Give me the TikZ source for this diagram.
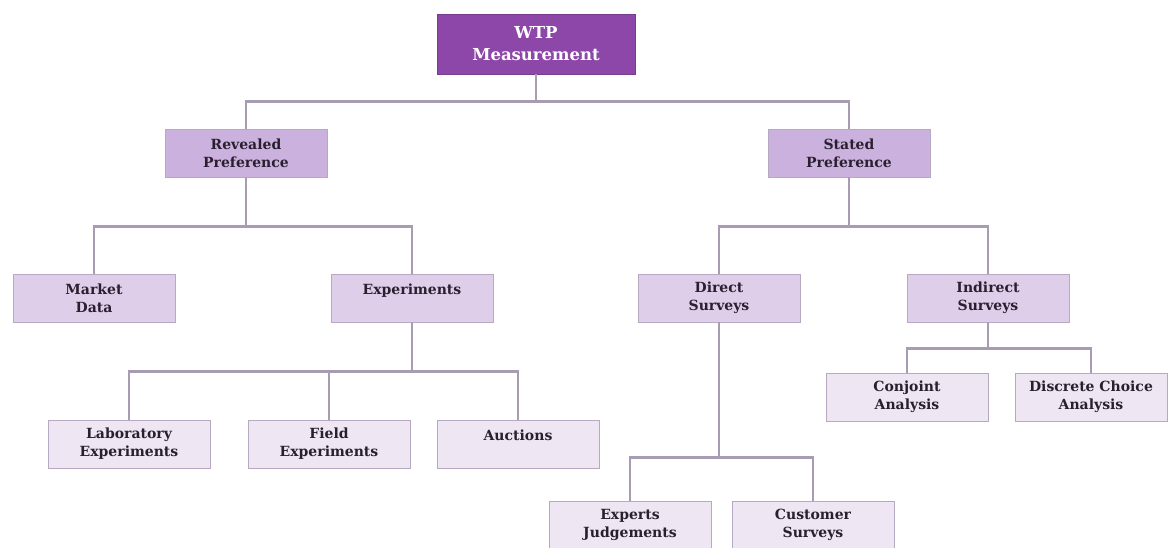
\documentclass[tikz,border=0pt]{standalone}
\usepackage{fontspec}
\setmainfont{DejaVu Serif}
\usepackage{tikz}
\usetikzlibrary{positioning}
\definecolor{wtroot}{HTML}{8C47A8}
\definecolor{wtpref}{HTML}{CBB2DE}
\definecolor{wtmeth}{HTML}{DFCEE9}
\definecolor{wtleaf}{HTML}{EEE7F3}
\definecolor{wtedge}{HTML}{B7A9C2}
\definecolor{wtlink}{HTML}{A89CB2}
\definecolor{wtink}{HTML}{2A1F2E}

\begin{document}
\begin{tikzpicture}[
  x=1pt,y=-1pt,
  box/.style={rectangle,draw=wtedge,line width=0.8pt,align=center,
    minimum width=162pt,minimum height=48pt,inner sep=0pt,
    font=\fontsize{14}{18}\selectfont\bfseries,text=wtink},
  rootBox/.style={box,fill=wtroot,draw=wtroot!85!black,minimum width=198pt,
    minimum height=60pt,text=white,font=\fontsize{16.5}{22}\selectfont\bfseries},
  prefBox/.style={box,fill=wtpref},
  methodBox/.style={box,fill=wtmeth},
  leafBox/.style={box,fill=wtleaf},
  link/.style={draw=wtlink,line width=2.6pt}
]
\useasboundingbox (0,0) rectangle (1168,547);

\node[rootBox] (wtp) at (536,44) {WTP\\Measurement};

\node[prefBox] (rev) at (246,153) {Revealed\\Preference};
\node[prefBox] (stated) at (849,153) {Stated\\Preference};

\node[methodBox] (market) at (94,298) {Market\\Data};
\node[methodBox] (exper) at (412,298) {Experiments\\\mbox{}};
\node[methodBox] (direct) at (719,298) {Direct\\Surveys};
\node[methodBox] (indirect) at (988,298) {Indirect\\Surveys};

\node[leafBox] (lab) at (129,444) {Laboratory\\Experiments};
\node[leafBox] (field) at (329,444) {Field\\Experiments};
\node[leafBox] (auct) at (518,444) {Auctions\\\mbox{}};
\node[leafBox] (conj) at (907,397) {Conjoint\\Analysis};
\node[leafBox,minimum width=152pt] (disc) at (1091,397) {Discrete Choice\\Analysis};
\node[leafBox] (expert) at (630,525) {Experts\\Judgements};
\node[leafBox] (cust) at (813,525) {Customer\\Surveys};

% tree links
\draw[link] (wtp.south) -- ++(0,27) -| (rev.north);
\draw[link] (wtp.south) -- ++(0,27) -| (stated.north);
\draw[link] (rev.south) -- ++(0,49) -| (market.north);
\draw[link] (rev.south) -- ++(0,49) -| (exper.north);
\draw[link] (stated.south) -- ++(0,49) -| (direct.north);
\draw[link] (stated.south) -- ++(0,49) -| (indirect.north);
\draw[link] (exper.south) -- ++(0,49) -| (lab.north);
\draw[link] (exper.south) -- ++(0,49) -| (field.north);
\draw[link] (exper.south) -- ++(0,49) -| (auct.north);
\draw[link] (direct.south) -- ++(0,135) -| (expert.north);
\draw[link] (direct.south) -- ++(0,135) -| (cust.north);
\draw[link] (indirect.south) -- ++(0,26) -| (conj.north);
\draw[link] (indirect.south) -- ++(0,26) -| (disc.north);
\end{tikzpicture}
\end{document}
